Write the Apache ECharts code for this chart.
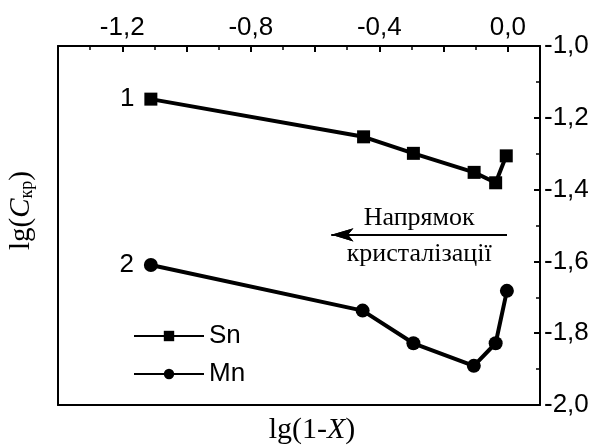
<!DOCTYPE html>
<html><head><meta charset="utf-8">
<script src="https://cdn.jsdelivr.net/npm/echarts@6/dist/echarts.min.js"></script>
<style>html,body{margin:0;padding:0;background:#fff}#c{width:598px;height:446px}</style>
</head><body><div id="c"></div>
<script>
var xSn = [-1.111, -0.449, -0.294, -0.105, -0.038, -0.005];
var ySn = [-1.148, -1.253, -1.299, -1.352, -1.381, -1.306];
var xMn = [-1.111, -0.452, -0.294, -0.106, -0.038, -0.003];
var yMn = [-1.610, -1.737, -1.828, -1.891, -1.828, -1.682];
var xTickValues = [-1.2, -0.8, -0.4, 0.0];
var xTickLabels = ['-1,2', '-0,8', '-0,4', '0,0'];
var yTickValues = [-1.0, -1.2, -1.4, -1.6, -1.8, -2.0];
var yTickLabels = ['-1,0', '-1,2', '-1,4', '-1,6', '-1,8', '-2,0'];
var seriesNames = ['Sn', 'Mn'];
var curveLabels = ['1', '2'];
var arrowStart = [-0.003, -1.526];
var arrowEnd = [-0.549, -1.526];
var arrowText = ['Напрямок', 'кристалізації'];

function pairs(xs, ys) { return xs.map(function (x, i) { return [x, ys[i]]; }); }
function lookup(vals, labels, v) {
  for (var i = 0; i < vals.length; i++) if (Math.abs(vals[i] - v) < 1e-6) return labels[i];
  return '';
}
var sans = 'Liberation Sans, Arial, sans-serif';
var serif = 'Liberation Serif, Times New Roman, serif';
var chart = echarts.init(document.getElementById('c'));
function line() { return { show: true, onZero: false, lineStyle: { color: '#000', width: 2 } }; }
var arrowLine = { color: '#000', width: 2, type: 'solid' };
chart.setOption({
  animation: false,
  grid: { left: 58, right: 58, top: 46, bottom: 41, containLabel: false, outerBoundsMode: 'none' },
  legend: {
    orient: 'vertical', left: 128, top: 318, itemWidth: 70, itemHeight: 13, itemGap: 12,
    data: seriesNames,
    lineStyle: { width: 2 },
    textStyle: { fontFamily: sans, fontSize: 26, color: '#000' }
  },
  xAxis: [
    {
      type: 'value', position: 'top', min: -1.4, max: 0.1, interval: 0.2,
      axisLine: line(), splitLine: { show: false },
      axisTick: { show: true, inside: true, length: 6, lineStyle: { color: '#000', width: 2 } },
      minorTick: { show: true, splitNumber: 2, length: 4, lineStyle: { color: '#000', width: 1.5 } },
      axisLabel: { fontFamily: sans, fontSize: 26, color: '#000', margin: 5,
        formatter: function (v) { return lookup(xTickValues, xTickLabels, v); } }
    },
    {
      type: 'value', position: 'bottom', min: -1.4, max: 0.1,
      axisLine: line(), splitLine: { show: false },
      axisTick: { show: false }, axisLabel: { show: false },
      name: '{n|lg(1-}{i|X}{n|)}', nameLocation: 'middle', nameGap: 10,
      nameTextStyle: { padding: [0, 0, 0, 26], rich: {
        n: { fontFamily: serif, fontSize: 30, color: '#000' },
        i: { fontFamily: serif, fontSize: 30, fontStyle: 'italic', color: '#000' } } }
    }
  ],
  yAxis: [
    {
      type: 'value', position: 'right', min: -2.0, max: -1.0, interval: 0.2,
      axisLine: line(), splitLine: { show: false },
      axisTick: { show: true, inside: true, length: 6, lineStyle: { color: '#000', width: 2 } },
      minorTick: { show: true, splitNumber: 2, length: 4, lineStyle: { color: '#000', width: 1.5 } },
      axisLabel: { fontFamily: sans, fontSize: 26, color: '#000', margin: 4,
        formatter: function (v) { return lookup(yTickValues, yTickLabels, v); } }
    },
    {
      type: 'value', position: 'left', min: -2.0, max: -1.0,
      axisLine: line(), splitLine: { show: false },
      axisTick: { show: false }, axisLabel: { show: false },
      name: '{n|lg(}{i|C}{s|кр}{n|)}', nameLocation: 'middle', nameGap: 22, nameRotate: 90,
      nameTextStyle: { padding: [0, 0, 0, 30], rich: {
        n: { fontFamily: serif, fontSize: 29, color: '#000' },
        i: { fontFamily: serif, fontSize: 29, fontStyle: 'italic', color: '#000' },
        s: { fontFamily: serif, fontSize: 18, color: '#000', padding: [12, 0, 0, 0] } } }
    }
  ],
  series: [
    {
      name: seriesNames[0], type: 'line', xAxisIndex: 0, yAxisIndex: 0,
      data: pairs(xSn, ySn), symbol: 'rect', symbolSize: 13,
      lineStyle: { color: '#000', width: 4 }, itemStyle: { color: '#000' },
      label: { show: true, position: 'left', distance: 10, fontFamily: sans, fontSize: 26, color: '#000',
        formatter: function (p) { return p.dataIndex === 0 ? curveLabels[0] : ''; } },
      markLine: {
        silent: true, symbol: 'none',
        data: [
          [{ coord: arrowStart, symbol: 'none', lineStyle: arrowLine,
             label: { show: true, position: 'insideMiddleTop', distance: 4, fontFamily: serif, fontSize: 26, color: '#000', formatter: arrowText[0] } },
           { coord: arrowEnd, symbol: 'arrow', symbolSize: [10, 22] }],
          [{ coord: arrowStart, symbol: 'none', lineStyle: arrowLine,
             label: { show: true, position: 'insideMiddleBottom', distance: 6, fontFamily: serif, fontSize: 26, color: '#000', formatter: arrowText[1] } },
           { coord: arrowEnd, symbol: 'arrow', symbolSize: [10, 22] }]
        ]
      }
    },
    {
      name: seriesNames[1], type: 'line', xAxisIndex: 0, yAxisIndex: 0,
      data: pairs(xMn, yMn), symbol: 'circle', symbolSize: 14,
      lineStyle: { color: '#000', width: 4 }, itemStyle: { color: '#000' },
      label: { show: true, position: 'left', distance: 10, fontFamily: sans, fontSize: 26, color: '#000',
        formatter: function (p) { return p.dataIndex === 0 ? curveLabels[1] : ''; } }
    }
  ]
});
</script></body></html>
